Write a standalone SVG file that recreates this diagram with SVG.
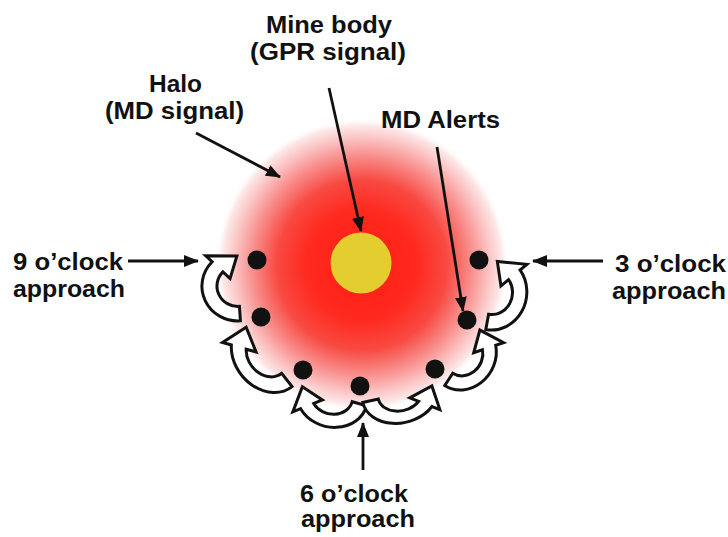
<svg xmlns="http://www.w3.org/2000/svg" width="728" height="537" viewBox="0 0 728 537">
<style>
.lbl{font-family:"Liberation Sans",Arial,sans-serif;font-weight:bold;font-size:23px;fill:#111}
.ln{stroke:#111;stroke-width:2.8;fill:none}
.carr{fill:#fff;stroke:#111;stroke-width:3;stroke-linejoin:miter}
.dot{fill:#111}
</style>
<defs>
<radialGradient id="haloG" cx="362" cy="265" r="147" gradientUnits="userSpaceOnUse">
<stop offset="0" stop-color="#ff1c12"/>
<stop offset="0.38" stop-color="#ff2a20"/>
<stop offset="0.58" stop-color="#f84a42"/>
<stop offset="0.74" stop-color="#f88c8a"/>
<stop offset="0.87" stop-color="#fbc6c6"/>
<stop offset="0.95" stop-color="#fde8e8"/>
<stop offset="1" stop-color="#ffffff" stop-opacity="0"/>
</radialGradient>
<marker id="ah" viewBox="0 0 15 12" refX="14" refY="6" markerWidth="15" markerHeight="12" markerUnits="userSpaceOnUse" orient="auto">
<path d="M0,0 L15,6 L0,12 Z" fill="#111"/>
</marker>
<path id="carc" vector-effect="non-scaling-stroke" d="M 0 36 A 36 36 0 0 1 -24.1 -26.8 L -30.1 -33.4 L 1 -31 L -7.4 -8.2 L -14.1 -15.6 A 21 21 0 0 0 0 21 Z"/>
</defs>
<rect width="728" height="537" fill="#fff"/>
<g id="halo"><circle cx="362" cy="265" r="147" fill="url(#haloG)"/></g>
<g id="mine-body"><circle cx="361" cy="263" r="30.5" fill="#e4cd2e"/></g>
<g id="connectors">
<line class="ln" x1="196" y1="133" x2="280" y2="177" marker-end="url(#ah)"/>
<line class="ln" x1="329" y1="88" x2="361" y2="231" marker-end="url(#ah)"/>
<line class="ln" x1="437" y1="147" x2="463" y2="311" marker-end="url(#ah)"/>
<line class="ln" x1="128" y1="261" x2="198" y2="261" marker-end="url(#ah)"/>
<line class="ln" x1="603" y1="261" x2="533" y2="261" marker-end="url(#ah)"/>
<line class="ln" x1="363" y1="470" x2="363" y2="423" marker-end="url(#ah)"/>
<g class="carr">
<use href="#carc" transform="translate(238,286) rotate(-4) scale(1,0.97)"/>
<use href="#carc" transform="translate(267,355) rotate(-38.4) scale(0.9,1.12)"/>
<use href="#carc" transform="translate(332,396) rotate(-74.3) scale(0.86,1)"/>
<use href="#carc" transform="translate(400,394) rotate(77.2) scale(-0.8,1.06)"/>
<use href="#carc" transform="translate(464,356) rotate(33.1) scale(-0.86,0.98)"/>
<use href="#carc" transform="translate(492.5,293) rotate(10.4) scale(-0.95,1.03)"/>
</g>
</g>
<g id="alert-dots">
<circle class="dot" cx="257" cy="260" r="9.5"/>
<circle class="dot" cx="261" cy="317" r="9.5"/>
<circle class="dot" cx="303" cy="370" r="9.5"/>
<circle class="dot" cx="360" cy="386" r="9.5"/>
<circle class="dot" cx="435" cy="369" r="9.5"/>
<circle class="dot" cx="467" cy="320" r="9.5"/>
<circle class="dot" cx="479" cy="260" r="9.5"/>
</g>
<g id="labels">
<text class="lbl" x="266" y="33" textLength="126" lengthAdjust="spacingAndGlyphs">Mine body</text>
<text class="lbl" x="250" y="60" textLength="156" lengthAdjust="spacingAndGlyphs">(GPR signal)</text>
<text class="lbl" x="149" y="92" textLength="53" lengthAdjust="spacingAndGlyphs">Halo</text>
<text class="lbl" x="105" y="119" textLength="139" lengthAdjust="spacingAndGlyphs">(MD signal)</text>
<text class="lbl" x="381" y="128" textLength="119" lengthAdjust="spacingAndGlyphs">MD Alerts</text>
<text class="lbl" x="13" y="270" textLength="110" lengthAdjust="spacingAndGlyphs">9 o’clock</text>
<text class="lbl" x="13" y="297" textLength="112" lengthAdjust="spacingAndGlyphs">approach</text>
<text class="lbl" x="615" y="272" textLength="111" lengthAdjust="spacingAndGlyphs">3 o’clock</text>
<text class="lbl" x="612" y="299" textLength="114" lengthAdjust="spacingAndGlyphs">approach</text>
<text class="lbl" x="300" y="502" textLength="108" lengthAdjust="spacingAndGlyphs">6 o’clock</text>
<text class="lbl" x="301" y="527" textLength="114" lengthAdjust="spacingAndGlyphs">approach</text>
</g>
</svg>
